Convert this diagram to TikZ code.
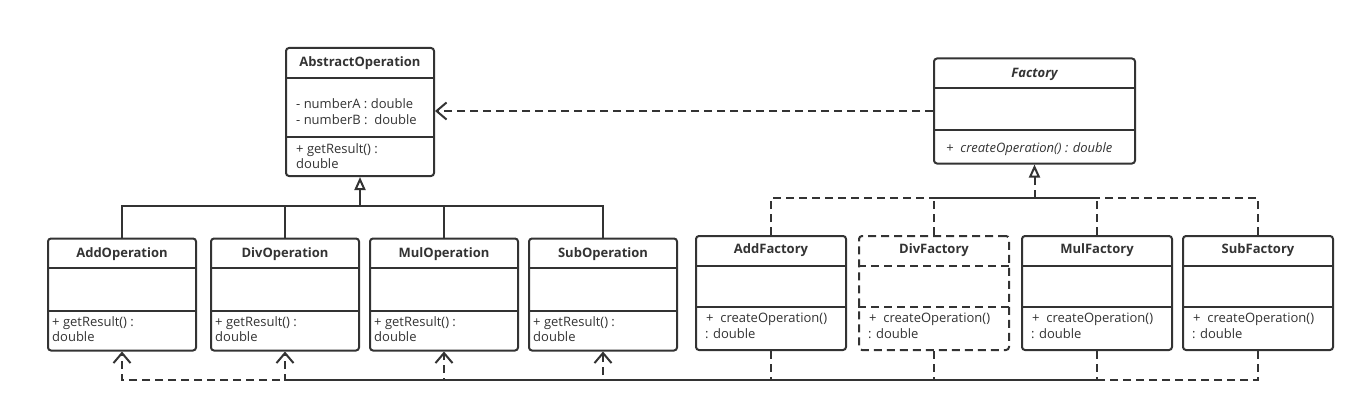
\documentclass[tikz,border=0pt]{standalone}
\usepackage{fontspec}
\setmainfont{Open Sans}
\usetikzlibrary{arrows.meta,calc}
\definecolor{ink}{HTML}{333333}
\tikzset{
  x=1pt, y=-1pt,
  cls/.style={draw=ink, line width=2pt, rounded corners=3pt, inner sep=0pt, anchor=north west, fill=white},
  sep/.style={draw=ink, line width=2pt},
  dsh/.style={dash pattern=on 8pt off 5pt},
  ttl/.style={font=\fontsize{13}{15}\selectfont\bfseries, text=ink, inner sep=0pt},
  txt/.style={font=\fontsize{13}{15}\selectfont, text=ink, inner sep=0pt, anchor=west, text height=9pt, text depth=3pt},
  gen/.style={draw=ink, line width=2pt, -{Triangle[open, length=13pt, width=11pt, line width=2pt]}},
  link/.style={draw=ink, line width=2pt},
  dep/.style={draw=ink, line width=2pt, dsh, -{Straight Barb[length=10pt, width=17pt, line width=2pt]}},
}
\begin{document}
\begin{tikzpicture}
\useasboundingbox (0,0) rectangle (1364,412);

% ---------- AbstractOperation ----------
\node[cls, minimum width=148pt, minimum height=128pt] (ao) at (285,47) {};
\draw[sep] (ao.west |- 0,78) -- (ao.east |- 0,78);
\draw[sep] (ao.west |- 0,137) -- (ao.east |- 0,137);
\node[ttl] (aot) at (ao.center |- 0,63) {AbstractOperation};
\node[txt] (aoa1) at (296,105) {- numberA : double};
\node[txt] (aoa2) at (296,121) {- numberB :\ \ double};
\node[txt] (aom1) at (296,150) {+ getResult() :};
\node[txt] (aom2) at (296,165) {double};

% ---------- Factory ----------
\node[cls, minimum width=201pt, minimum height=105pt] (fac) at (933,57.5) {};
\draw[sep] (fac.west |- 0,88) -- (fac.east |- 0,88);
\draw[sep] (fac.west |- 0,129.5) -- (fac.east |- 0,129.5);
\node[ttl, font=\fontsize{13}{15}\selectfont\bfseries\itshape] (fact) at (fac.center |- 0,74) {Factory};
\node[txt, font=\fontsize{13}{15}\selectfont\itshape] (facm) at (946,149) {+\ \ createOperation() : double};

% ---------- Operation classes ----------
\foreach \n/\l/\t in {addop/47/AddOperation, divop/210/DivOperation, mulop/369/MulOperation, subop/528/SubOperation}{
  \node[cls, minimum width=148pt, minimum height=112pt] (\n) at (\l,237.5) {};
  \draw[sep] (\n.west |- 0,268) -- (\n.east |- 0,268);
  \draw[sep] (\n.west |- 0,311) -- (\n.east |- 0,311);
  \node[ttl] (\n t) at (\n.center |- 0,254) {\t};
  \node[txt] (\n m1) at ($(\n.west |- 0,323)+(5,0)$) {+ getResult() :};
  \node[txt] (\n m2) at ($(\n.west |- 0,338)+(5,0)$) {double};
}

% ---------- Factory classes ----------
\foreach \n/\l/\t/\s in {addf/695/AddFactory/solid, divf/858/DivFactory/dsh, mulf/1021/MulFactory/solid, subf/1182/SubFactory/solid}{
  \node[cls, \s, minimum width=150pt, minimum height=114pt] (\n) at (\l,235) {};
  \draw[sep, \s] (\n.west |- 0,265.5) -- (\n.east |- 0,265.5);
  \draw[sep, \s] (\n.west |- 0,307) -- (\n.east |- 0,307);
  \node[ttl] (\n t) at (\n.center |- 0,250.5) {\t};
  \node[txt] (\n m1) at ($(\n.west |- 0,319)+(11,0)$) {+\ \ createOperation()};
  \node[txt] (\n m2) at ($(\n.west |- 0,335)+(10,0)$) {: double};
}

% ---------- Generalisation: operations -> AbstractOperation ----------
\coordinate (gj) at (ao.south |- 0,206);
\draw[gen] (gj) -- (ao.south);
\foreach \n in {addop,divop,mulop,subop}{
  \draw[link] (\n.north) |- (gj);
}

% ---------- Realisation: factories -> Factory ----------
\coordinate (fj) at (fac.south |- 0,198);
\draw[gen, dsh] (fj) -- (fac.south);
\foreach \n in {addf,divf,mulf,subf}{
  \draw[link, dsh] (\n.north) |- (fj);
}

% ---------- Dependency: Factory -> AbstractOperation ----------
\draw[dep] (fac.west) -- (ao.east |- fac.west);

% ---------- Dependencies: factories -> operations ----------
\foreach \f/\o in {addf/addop, divf/divop, mulf/mulop, subf/subop}{
  \draw[dep] (\f.south) -- (\f.south |- 0,380) -| (\o.south);
}
\end{tikzpicture}
\end{document}
